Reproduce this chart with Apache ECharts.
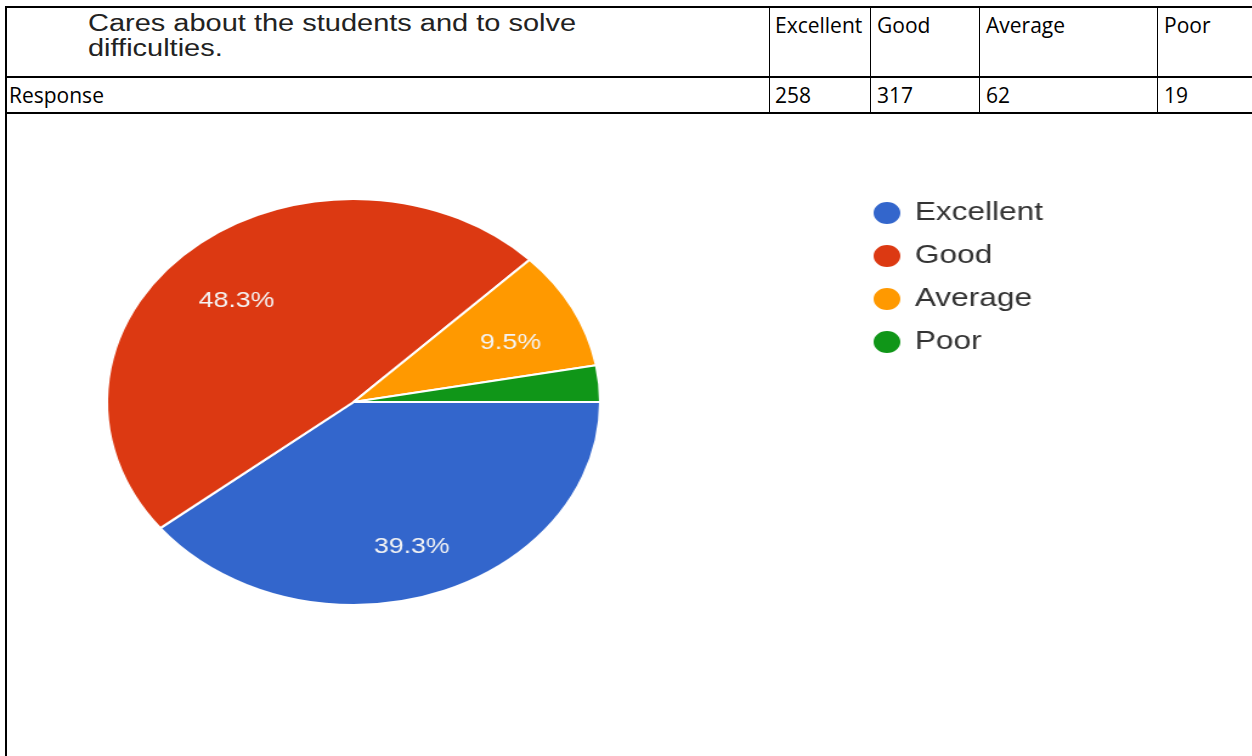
<!DOCTYPE html>
<html>
<head>
<meta charset="utf-8">
<script src="https://cdn.jsdelivr.net/npm/echarts@6/dist/echarts.min.js"></script>
<style>
  html, body { margin: 0; padding: 0; background: #fff; }
  body { width: 1252px; height: 756px; position: relative; overflow: hidden; }
  .hl { position: absolute; left: 5px; width: 1300px; height: 2px; background: #000; }
  .vl { position: absolute; top: 7px; height: 106px; width: 1px; background: #000; }
  .cell { position: absolute; font-family: "Open Sans", sans-serif; font-size: 21px; line-height: 30px; color: #000; white-space: nowrap; }
  .q { position: absolute; left: 88px; top: 11px; font-family: "Liberation Sans", Arial, sans-serif; font-size: 23px; line-height: 25px; color: #222;
       transform: scaleX(1.26); transform-origin: 0 0; white-space: nowrap; }
  #chart { position: absolute; left: 0; top: 114px; width: 1030px; height: 642px; transform: scaleX(1.215); transform-origin: 0 0; }
</style>
</head>
<body>
  <div class="hl" style="top:6px"></div>
  <div class="hl" style="top:76px;height:1.5px"></div>
  <div class="hl" style="top:112px;height:1.5px"></div>
  <div style="position:absolute;left:5px;top:6px;width:2px;height:760px;background:#000"></div>
  <div class="vl" style="left:769px"></div>
  <div class="vl" style="left:870px"></div>
  <div class="vl" style="left:979px"></div>
  <div class="vl" style="left:1157px"></div>

  <div class="q">Cares about the students and to solve<br>difficulties.</div>
  <div id="hdr"></div>
  <div id="chart"></div>

<script>
// 表格和饼图的数据
var categories = ['Excellent', 'Good', 'Average', 'Poor'];
var responses = [258, 317, 62, 19];
var rowLabel = 'Response';
var colors = ['#3366cc', '#dc3912', '#ff9900', '#109618'];

// 表头和数值
var colLeft = [775, 877, 986, 1164];
var html = '<div class="cell" style="left:9px;top:80px">' + rowLabel + '</div>';
for (var i = 0; i < categories.length; i++) {
    html += '<div class="cell" style="left:' + colLeft[i] + 'px;top:10px">' + categories[i] + '</div>';
    html += '<div class="cell" style="left:' + colLeft[i] + 'px;top:80px">' + responses[i] + '</div>';
}
document.getElementById('hdr').innerHTML = html;

var total = responses.reduce(function (a, b) { return a + b; }, 0);
var pieData = categories.map(function (name, i) {
    return { name: name, value: responses[i] };
});

var myChart = echarts.init(document.getElementById('chart'), null, { renderer: 'canvas' });
myChart.setOption({
    animation: false,
    color: colors,
    legend: {
        data: categories,
        orient: 'vertical',
        left: 712,
        top: 81,
        icon: 'circle',
        itemWidth: 24,
        itemHeight: 24,
        itemGap: 17,
        textStyle: {
            fontFamily: 'Liberation Sans',
            fontSize: 26,
            lineHeight: 24,
            color: '#333',
            padding: [0, 0, 0, 6]
        }
    },
    series: [
        {
            // 实际的饼
            type: 'pie',
            center: [291, 288],
            radius: 203,
            startAngle: 0,
            clockwise: true,
            silent: true,
            label: { show: false },
            labelLine: { show: false },
            itemStyle: { borderColor: '#fff', borderWidth: 2 },
            data: pieData
        },
        {
            // 透明环，只用来放百分比标签（稍微往下挪一点）
            type: 'pie',
            center: [291, 296],
            radius: [82, 203],
            startAngle: 0,
            clockwise: true,
            silent: true,
            itemStyle: { color: 'transparent' },
            labelLine: { show: false },
            label: {
                show: true,
                position: 'inside',
                fontFamily: 'Liberation Sans',
                fontSize: 22,
                color: '#f4f4f4',
                formatter: function (p) {
                    var pct = p.value / total * 100;
                    return pct < 5 ? '' : pct.toFixed(1) + '%';
                }
            },
            data: pieData
        }
    ]
});
</script>
</body>
</html>
